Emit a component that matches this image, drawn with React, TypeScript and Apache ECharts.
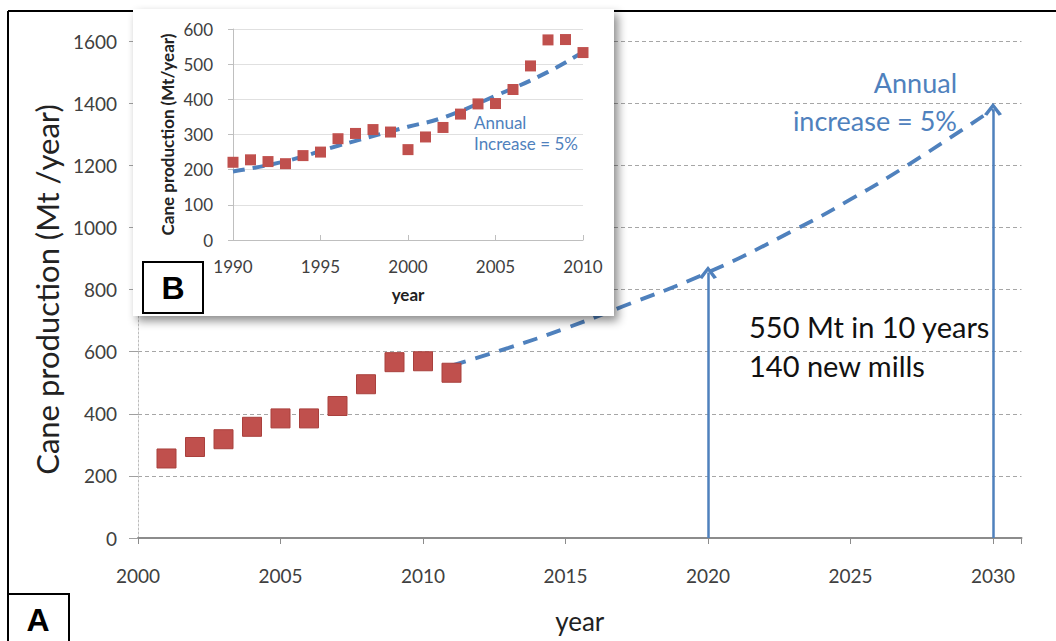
import React, { useEffect, useRef } from "react";
import * as echarts from "echarts";

// ---- Main panel (A) ----
const mainYears = [2001, 2002, 2003, 2004, 2005, 2006, 2007, 2008, 2009, 2010, 2011];
const mainProduction = [256, 293, 318, 358, 385, 385, 425, 495, 566, 569, 532];
const projYears = [2011, 2013, 2015, 2017, 2020, 2023, 2025, 2027, 2030];
const projProduction = [555, 612, 675, 745, 855, 990, 1090, 1200, 1380];
const arrowYears = [2020, 2030];
const arrowTops = [855, 1380];
const noteLines = ["550 Mt in 10 years", "140 new mills"];
const rateLines = ["Annual", "increase = 5%"];

// ---- Inset panel (B) ----
const insetYears = [1990, 1991, 1992, 1993, 1994, 1995, 1996, 1997, 1998, 1999, 2000, 2001, 2002, 2003, 2004, 2005, 2006, 2007, 2008, 2009, 2010];
const insetProduction = [221, 228, 223, 217, 240, 250, 288, 303, 314, 307, 257, 293, 320, 358, 387, 388, 428, 495, 569, 570, 533];
const insetTrendYears = [1990, 1993, 1996, 2000, 2002, 2005, 2008, 2010];
const insetTrendValues = [195, 224, 268, 322, 348, 410, 478, 535];
const insetRateLines = ["Annual", "Increase = 5%"];

const BLUE = "#4f81bd";
const RED = "#c0504d";
const FONT = "Lato";

export default function App() {
  const ref = useRef<HTMLDivElement>(null);

  useEffect(() => {
    document.body.style.margin = "0";
    if (!ref.current) return;
    const chart = echarts.init(ref.current, null, { renderer: "svg" });

    const chevron = "path://M0,11 L6,0 L12,11 L9.8,12.4 L6,5 L2.2,12.4 Z";
    const plain = (v: number) => String(v);

    const option: any = {
      animation: false,
      backgroundColor: "#ffffff",
      textStyle: { fontFamily: FONT },
      grid: [
        { left: 138, right: 34.5, top: 41, bottom: 103 },
        { left: 233, right: 473, top: 29, bottom: 401 },
      ],
      xAxis: [
        {
          gridIndex: 0,
          type: "value",
          min: 2000,
          max: 2031,
          interval: 5,
          name: "year",
          nameLocation: "middle",
          nameGap: 70,
          nameTextStyle: { fontSize: 26, color: "#222", fontFamily: FONT },
          axisLine: { show: true, onZero: false, lineStyle: { color: "#8c8c8c", width: 2 } },
          axisTick: { show: true, length: 6, lineStyle: { color: "#8c8c8c" } },
          axisLabel: {
            fontSize: 19,
            color: "#404040",
            margin: 28,
            fontFamily: FONT,
            formatter: (v: number) => (v % 5 === 0 ? String(v) : ""),
          },
          splitLine: { show: false },
        },
        {
          gridIndex: 1,
          type: "value",
          min: 1990,
          max: 2010,
          interval: 5,
          z: 10,
          name: "year",
          nameLocation: "middle",
          nameGap: 46,
          nameTextStyle: { fontSize: 17, fontWeight: "bold", color: "#222", fontFamily: FONT },
          axisLine: { show: true, onZero: false, lineStyle: { color: "#bfbfbf", width: 1 } },
          axisTick: { show: true, length: 5, inside: true, lineStyle: { color: "#bfbfbf" } },
          axisLabel: { fontSize: 17, color: "#404040", margin: 18, fontFamily: FONT, formatter: plain },
          splitLine: { show: false },
        },
      ],
      yAxis: [
        {
          gridIndex: 0,
          type: "value",
          min: 0,
          max: 1600,
          interval: 200,
          name: "Cane production (Mt /year)",
          nameLocation: "middle",
          nameRotate: 90,
          nameGap: 76,
          nameTextStyle: { fontSize: 31, color: "#222", fontFamily: FONT },
          axisLine: { show: true, lineStyle: { color: "#bdbdbd", width: 1, type: [2, 2] } },
          axisTick: { show: true, length: 9, lineStyle: { color: "#a0a0a0" } },
          axisLabel: { fontSize: 19, color: "#404040", margin: 21, fontFamily: FONT, formatter: plain },
          splitLine: { show: true, lineStyle: { color: "#a6a6a6", width: 1, type: [4, 3] } },
        },
        {
          gridIndex: 1,
          type: "value",
          min: 0,
          max: 600,
          interval: 100,
          z: 10,
          name: "Cane production (Mt/year)",
          nameLocation: "middle",
          nameRotate: 90,
          nameGap: 57,
          nameTextStyle: { fontSize: 17, fontWeight: "bold", color: "#222", fontFamily: FONT },
          axisLine: { show: true, lineStyle: { color: "#bfbfbf", width: 1 } },
          axisTick: { show: true, length: 5, lineStyle: { color: "#bfbfbf" } },
          axisLabel: { fontSize: 17, color: "#404040", margin: 20, fontFamily: FONT, formatter: plain },
          splitLine: { show: true, lineStyle: { color: "#e0e0e0", width: 1 } },
        },
      ],
      series: [
        {
          name: "Projection",
          type: "line",
          xAxisIndex: 0,
          yAxisIndex: 0,
          smooth: true,
          showSymbol: false,
          silent: true,
          z: 3,
          data: projYears.map((y, i) => [y, projProduction[i]]),
          lineStyle: { color: BLUE, width: 3.8, type: [15, 10] },
          markLine: {
            silent: true,
            symbol: ["none", chevron],
            symbolSize: [18, 13],
            label: { show: false },
            emphasis: { disabled: true },
            lineStyle: { color: BLUE, width: 2.5, type: "solid" },
            data: arrowYears.map((y, i) => [{ coord: [y, 0] }, { coord: [y, arrowTops[i]] }]),
          },
        },
        {
          name: "Cane production",
          type: "scatter",
          xAxisIndex: 0,
          yAxisIndex: 0,
          symbol: "rect",
          symbolSize: 19,
          z: 4,
          data: mainYears.map((y, i) => [y, mainProduction[i]]),
          itemStyle: { color: RED, opacity: 1, borderColor: "#a9403d", borderWidth: 1 },
        },
        {
          name: "Inset trend",
          type: "line",
          xAxisIndex: 1,
          yAxisIndex: 1,
          smooth: true,
          showSymbol: false,
          silent: true,
          z: 11,
          data: insetTrendYears.map((y, i) => [y, insetTrendValues[i]]),
          lineStyle: { color: BLUE, width: 4, type: [12, 8] },
        },
        {
          name: "Inset production",
          type: "scatter",
          xAxisIndex: 1,
          yAxisIndex: 1,
          symbol: "rect",
          symbolSize: 11,
          z: 12,
          data: insetYears.map((y, i) => [y, insetProduction[i]]),
          itemStyle: { color: RED, opacity: 1 },
        },
      ],
      graphic: [
        { type: "line", z: 1, shape: { x1: 8, y1: 11, x2: 1056, y2: 11 }, style: { stroke: "#000", lineWidth: 2 } },
        { type: "line", z: 1, shape: { x1: 8, y1: 11, x2: 8, y2: 595 }, style: { stroke: "#000", lineWidth: 2 } },
        {
          type: "rect",
          z: 5,
          shape: { x: 133, y: 9, width: 481, height: 307 },
          style: { fill: "#ffffff", shadowBlur: 10, shadowColor: "rgba(0,0,0,0.45)", shadowOffsetX: 4, shadowOffsetY: 5 },
        },
        {
          type: "text",
          z: 20,
          x: 749,
          y: 326,
          style: { text: noteLines[0], fill: "#111", fontSize: 29, fontFamily: FONT, align: "left", verticalAlign: "middle" },
        },
        {
          type: "text",
          z: 20,
          x: 749,
          y: 365,
          style: { text: noteLines[1], fill: "#111", fontSize: 29, fontFamily: FONT, align: "left", verticalAlign: "middle" },
        },
        {
          type: "text",
          z: 20,
          x: 957,
          y: 82,
          style: { text: rateLines[0], fill: BLUE, fontSize: 27, fontFamily: FONT, align: "right", verticalAlign: "middle" },
        },
        {
          type: "text",
          z: 20,
          x: 957,
          y: 120,
          style: { text: rateLines[1], fill: BLUE, fontSize: 27, fontFamily: FONT, align: "right", verticalAlign: "middle" },
        },
        {
          type: "text",
          z: 20,
          x: 474,
          y: 122,
          style: { text: insetRateLines[0], fill: BLUE, fontSize: 17, fontFamily: FONT, align: "left", verticalAlign: "middle" },
        },
        {
          type: "text",
          z: 20,
          x: 474,
          y: 143,
          style: { text: insetRateLines[1], fill: BLUE, fontSize: 17, fontFamily: FONT, align: "left", verticalAlign: "middle" },
        },
        {
          type: "rect",
          z: 20,
          shape: { x: 143, y: 262, width: 60, height: 51 },
          style: { fill: "#fff", stroke: "#000", lineWidth: 2 },
        },
        {
          type: "text",
          z: 21,
          x: 173,
          y: 288,
          style: { text: "B", fill: "#000", fontSize: 32, fontWeight: "bold", fontFamily: "Liberation Sans", align: "center", verticalAlign: "middle" },
        },
        {
          type: "rect",
          z: 20,
          shape: { x: 8, y: 594, width: 61, height: 52 },
          style: { fill: "#fff", stroke: "#000", lineWidth: 2 },
        },
        {
          type: "text",
          z: 21,
          x: 38,
          y: 620,
          style: { text: "A", fill: "#000", fontSize: 32, fontWeight: "bold", fontFamily: "Liberation Sans", align: "center", verticalAlign: "middle" },
        },
      ],
    };

    chart.setOption(option);
    return () => chart.dispose();
  }, []);

  return <div ref={ref} style={{ width: 1056, height: 641 }} />;
}
